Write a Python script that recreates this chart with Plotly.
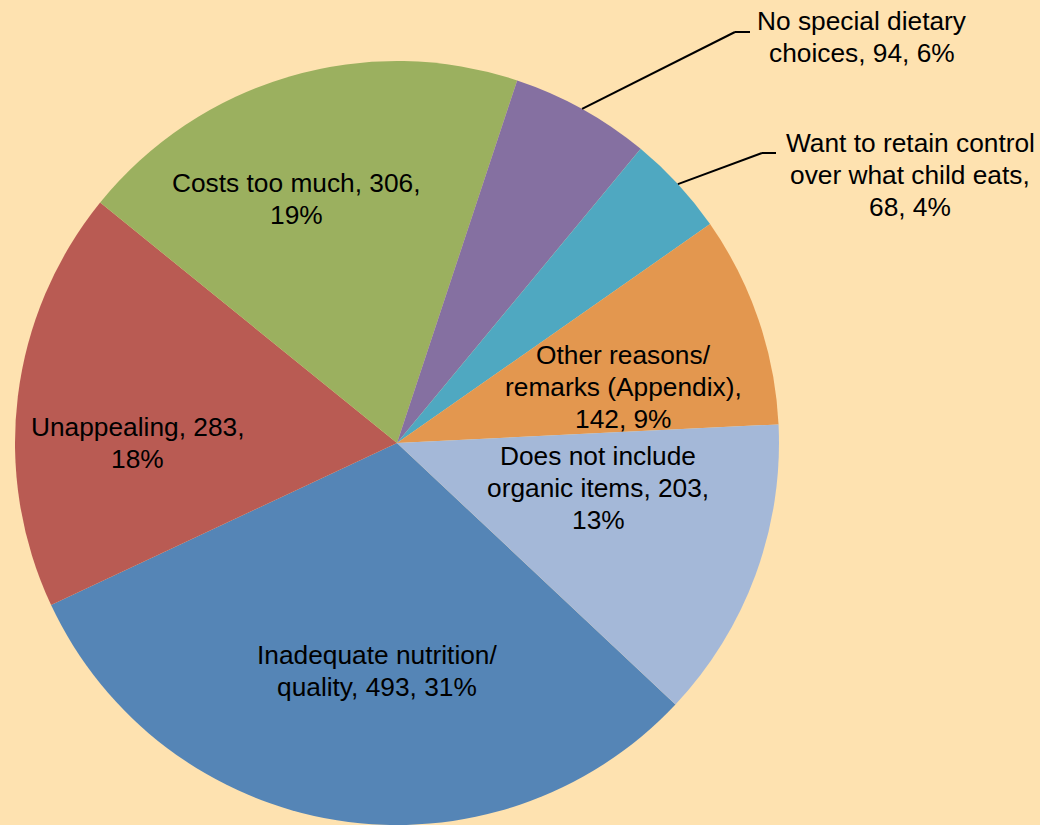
import math
import plotly.graph_objects as go

# ---- data ----
labels = [
    "Inadequate nutrition/ quality",
    "Unappealing",
    "Costs too much",
    "No special dietary choices",
    "Want to retain control over what child eats",
    "Other reasons/ remarks (Appendix)",
    "Does not include organic items",
]
values = [493, 283, 306, 94, 68, 142, 203]
colors = ["#5585B6", "#B95B53", "#9BB05F", "#8570A1", "#4FA8C1", "#E3974F", "#A4B8D8"]

# label text lines (as shown on chart)
label_lines = [
    ["Inadequate nutrition/", "quality, 493, 31%"],
    ["Unappealing, 283,", "18%"],
    ["Costs too much, 306,", "19%"],
    ["No special dietary", "choices, 94, 6%"],
    ["Want to retain control", "over what child eats,", "68, 4%"],
    ["Other reasons/", "remarks (Appendix),", "142, 9%"],
    ["Does not include", "organic items, 203,", "13%"],
]
# label anchor (center x, first-line y) in pixels
label_pos = [(377, 655), (137, 427), (296, 183), (862, 21), (910, 143), (623, 355), (598, 456)]
LINE_STEP = 32

W, H = 1040, 825
CX, CY, R = 397, 443, 382
ROT = 133.2

fig = go.Figure(go.Pie(
    labels=labels, values=values, sort=False, direction="clockwise",
    rotation=ROT, marker=dict(colors=colors, line=dict(width=0)),
    textinfo="none", hoverinfo="label+value+percent", showlegend=False,
    domain=dict(x=[(CX - R) / W, (CX + R) / W], y=[0, 2 * R / H]),
))

ann = []
for lines, (lx, ly) in zip(label_lines, label_pos):
    for i, t in enumerate(lines):
        ann.append(dict(x=lx / W, y=1 - (ly + i * LINE_STEP) / H, xref="paper", yref="paper",
                        text=t, showarrow=False, xanchor="center", yanchor="middle",
                        font=dict(family="Liberation Sans, Arial", size=26.3, color="#000000")))

# leader lines for the two small slices
total = sum(values)
shapes = []
elbows = {3: ((735, 32), (750, 32)), 4: ((762, 153), (776, 153))}
cum = 0
for i, v in enumerate(values):
    mid = ROT + (cum + v / 2) / total * 360
    cum += v
    if i in elbows:
        a = math.radians(mid)
        sx = CX + R * math.sin(a)
        sy = CY - R * math.cos(a)
        (ex, ey), (fx, fy) = elbows[i]
        for (x0, y0, x1, y1) in [(sx, sy, ex, ey), (ex, ey, fx, fy)]:
            shapes.append(dict(type="line", xref="paper", yref="paper",
                               x0=x0 / W, y0=1 - y0 / H, x1=x1 / W, y1=1 - y1 / H,
                               line=dict(color="#000000", width=2)))

fig.update_layout(
    width=W, height=H, margin=dict(l=0, r=0, t=0, b=0),
    paper_bgcolor="#FEE2B0", plot_bgcolor="#FEE2B0",
    annotations=ann, shapes=shapes,
)
fig.write_html(
    "out.html",
    config={"displayModeBar": False},
    post_script="document.body.style.margin='0';document.body.style.overflow='hidden';document.body.style.background='#FEE2B0';",
)
